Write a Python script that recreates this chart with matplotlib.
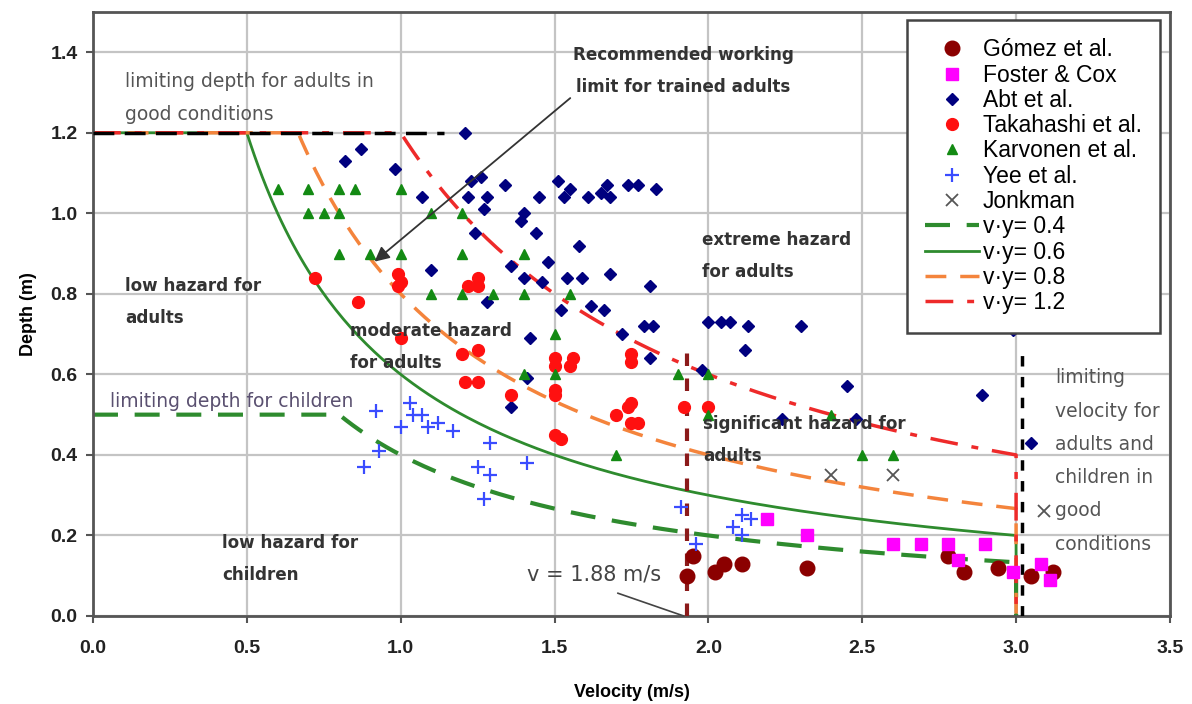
import numpy as np
import matplotlib
matplotlib.use("Agg")
import matplotlib.pyplot as plt
from matplotlib.lines import Line2D

plt.rcParams['font.family'] = ['Liberation Sans', 'DejaVu Sans']

# - - - - data - - - -
gomez_v = [1.93, 1.95, 2.02, 2.05, 2.11, 2.32, 2.78, 2.83, 2.94, 3.05, 3.12]
gomez_y = [0.10, 0.15, 0.11, 0.13, 0.13, 0.12, 0.15, 0.11, 0.12, 0.10, 0.11]

foster_v = [2.19, 2.32, 2.60, 2.69, 2.78, 2.81, 2.90, 2.99, 3.08, 3.11]
foster_y = [0.24, 0.20, 0.18, 0.18, 0.18, 0.14, 0.18, 0.11, 0.13, 0.09]

abt_v = [0.82, 0.87, 0.98, 1.21, 1.23, 1.26, 1.34, 1.51, 1.55, 1.07, 1.22, 1.28,
         1.45, 1.53, 1.61, 1.65, 1.67, 1.68, 1.74, 1.77, 1.83, 1.27, 1.40, 1.39,
         1.24, 1.44, 1.58, 1.36, 1.48, 1.10, 1.68, 1.40, 1.46, 1.54, 1.59, 1.81,
         1.28, 1.52, 1.62, 1.66, 1.42, 1.72, 1.79, 1.82, 2.00, 2.04, 2.07, 2.13,
         2.30, 2.12, 1.81, 1.98, 2.45, 2.24, 2.48, 2.89, 3.05, 2.99, 1.41, 1.36]
abt_y = [1.13, 1.16, 1.11, 1.20, 1.08, 1.09, 1.07, 1.08, 1.06, 1.04, 1.04, 1.04,
         1.04, 1.04, 1.04, 1.05, 1.07, 1.04, 1.07, 1.07, 1.06, 1.01, 1.00, 0.98,
         0.95, 0.95, 0.92, 0.87, 0.88, 0.86, 0.85, 0.84, 0.83, 0.84, 0.84, 0.82,
         0.78, 0.76, 0.77, 0.76, 0.69, 0.70, 0.72, 0.72, 0.73, 0.73, 0.73, 0.72,
         0.72, 0.66, 0.64, 0.61, 0.57, 0.49, 0.49, 0.55, 0.43, 0.71, 0.59, 0.52]

takahashi_v = [0.72, 0.86, 0.99, 1.00, 0.99, 1.00, 1.22, 1.25, 1.25, 1.20, 1.25,
               1.21, 1.25, 1.36, 1.50, 1.50, 1.56, 1.55, 1.50, 1.50, 1.50, 1.52,
               1.75, 1.75, 1.70, 1.74, 1.75, 1.75, 1.77, 1.92, 2.00]
takahashi_y = [0.84, 0.78, 0.85, 0.83, 0.82, 0.69, 0.82, 0.84, 0.82, 0.65, 0.66,
               0.58, 0.58, 0.55, 0.64, 0.62, 0.64, 0.62, 0.55, 0.56, 0.45, 0.44,
               0.65, 0.63, 0.50, 0.52, 0.53, 0.48, 0.48, 0.52, 0.52]

karvonen_v = [0.60, 0.70, 0.80, 0.85, 1.00, 0.70, 0.75, 0.80, 1.10, 1.20, 0.80,
              0.90, 1.00, 1.20, 1.40, 1.10, 1.20, 1.30, 1.40, 1.55, 1.50, 1.40,
              1.50, 1.90, 2.00, 2.00, 1.70, 2.40, 2.50, 2.60]
karvonen_y = [1.06, 1.06, 1.06, 1.06, 1.06, 1.00, 1.00, 1.00, 1.00, 1.00, 0.90,
              0.90, 0.90, 0.90, 0.90, 0.80, 0.80, 0.80, 0.80, 0.80, 0.70, 0.60,
              0.60, 0.60, 0.60, 0.50, 0.40, 0.50, 0.40, 0.40]

yee_v = [0.88, 0.92, 0.93, 1.00, 1.03, 1.04, 1.07, 1.09, 1.12, 1.17, 1.25, 1.29,
         1.27, 1.29, 1.41, 1.91, 1.96, 2.08, 2.11, 2.14, 2.11]
yee_y = [0.37, 0.51, 0.41, 0.47, 0.53, 0.50, 0.50, 0.47, 0.48, 0.46, 0.37, 0.35,
         0.29, 0.43, 0.38, 0.27, 0.18, 0.22, 0.25, 0.24, 0.20]

jonkman_v = [2.40, 2.60, 3.09]
jonkman_y = [0.35, 0.35, 0.26]

# hazard curves v*y = const, capped at a limiting depth, cut at v = 3 m/s
hazard_const = [0.4, 0.6, 0.8, 1.2]
hazard_cap = [0.5, 1.2, 1.2, 1.2]
v_limit = 3.0
v_marked = 1.93
v_limit_line = 3.02


def main():
    fig = plt.figure(figsize=(11.92, 7.04), dpi=100)
    ax = fig.add_axes([0.078, 0.125, 0.9035, 0.858])

    ax.set_xlim(0, 3.5)
    ax.set_ylim(0, 1.5)
    ax.set_xticks(np.arange(0, 3.51, 0.5))
    ax.set_yticks(np.arange(0, 1.41, 0.2))
    ax.set_xticklabels(["%.1f" % t for t in np.arange(0, 3.51, 0.5)])
    ax.set_yticklabels(["%.1f" % t for t in np.arange(0, 1.41, 0.2)])
    ax.grid(True, color='#c4c4c4', linewidth=1.6)
    ax.set_axisbelow(True)
    for s in ax.spines.values():
        s.set_color('#555555')
        s.set_linewidth(2)
    ax.tick_params(length=5, width=1.5, color='#555555', labelsize=14)
    ax.tick_params(axis='x', pad=12)
    ax.tick_params(axis='y', pad=6)
    for lab in ax.get_xticklabels() + ax.get_yticklabels():
        lab.set_fontweight('bold')
        lab.set_color('#222222')
    ax.set_xlabel("Velocity (m/s)", fontsize=13, fontweight='bold', labelpad=20)
    ax.set_ylabel("Depth (m)", fontsize=13, fontweight='bold', labelpad=10)

    # limiting depth lines
    ax.plot([0, 1.14], [1.2, 1.2], color='black', lw=2.5, dashes=(6, 3), zorder=3)
    ax.plot([v_marked, v_marked], [0, 0.68], color='#8b1a1a', lw=3, dashes=(3, 3), zorder=3)
    ax.plot([v_limit_line, v_limit_line], [0, 0.65], color='black', lw=2.5, dashes=(3, 3), zorder=3)

    styles = [dict(color='#2e8b2e', lw=3, dashes=(6, 4)),
              dict(color='#2e8b2e', lw=2, linestyle='-'),
              dict(color='#f4843c', lw=2.5, dashes=(6, 4)),
              dict(color='#ee2a2a', lw=2.5, dashes=(8, 4, 2, 4))]
    for c, cap, st in zip(hazard_const, hazard_cap, styles):
        v0 = c / cap
        v = np.linspace(v0, v_limit, 200)
        vv = np.concatenate([[0], v, [v_limit]])
        yy = np.concatenate([[cap], c / v, [0]])
        ax.plot(vv, yy, zorder=2, **st)

    ax.plot(gomez_v, gomez_y, 'o', color='#8b0000', ms=10.5, zorder=4)
    ax.plot(foster_v, foster_y, 's', color='#ff00ff', ms=8, zorder=4)
    ax.plot(abt_v, abt_y, 'D', color='#00007f', ms=6, zorder=4)
    ax.plot(takahashi_v, takahashi_y, 'o', color='#ff1010', ms=8.5, zorder=4)
    ax.plot(karvonen_v, karvonen_y, '^', color='#138a13', ms=7, zorder=4)
    ax.plot(yee_v, yee_y, '+', color='#3a4cff', ms=10, mew=1.6, zorder=4)
    ax.plot(jonkman_v, jonkman_y, 'x', color='#555555', ms=8, mew=1.3, zorder=4)

    # region labels
    dv = ['DejaVu Sans']
    bold = dict(family=dv, fontsize=12.1, fontweight='bold', color='#333333',
                linespacing=2.0, zorder=5)
    gray = dict(family=dv, fontsize=13.5, color='#555555', linespacing=1.95, zorder=5)
    ax.text(0.104, 1.286, "limiting depth for adults in\ngood conditions", va='center', **gray)
    ax.text(0.055, 0.532, "limiting depth for children", va='center', family=dv,
            color='#5a5070', fontsize=13.5, zorder=5)
    ax.text(0.104, 0.78, "low hazard for\nadults", va='center', **bold)
    ax.text(0.835, 0.668, "moderate hazard\nfor adults", va='center', **bold)
    ax.text(1.979, 0.893, "extreme hazard\nfor adults", va='center', **bold)
    ax.text(1.982, 0.437, "significant hazard for\nadults", va='center', **bold)
    ax.text(0.419, 0.142, "low hazard for\nchildren", va='center', **bold)
    ax.text(3.126, 0.385, "limiting\nvelocity for\nadults and\nchildren in\ngood\nconditions",
            va='center', **gray)

    ax.annotate("Recommended working\nlimit for trained adults", xy=(0.915, 0.88),
                xytext=(1.919, 1.354), ha='center', va='center', **bold,
                arrowprops=dict(arrowstyle='-|>', color='#333333', lw=1.3,
                                mutation_scale=22, shrinkA=0, shrinkB=0,
                                relpos=(0.0, 0.0)))
    ax.annotate("v = 1.88 m/s", xy=(1.92, 0.0), xytext=(1.628, 0.102), ha='center',
                va='center', family=dv, fontsize=15, color='#444444', zorder=5,
                arrowprops=dict(arrowstyle='-', color='#444444', lw=1.2,
                                shrinkA=12, shrinkB=0, relpos=(0.5, 0.0)))

    handles = [
        Line2D([], [], ls='none', marker='o', color='#8b0000', ms=10.5),
        Line2D([], [], ls='none', marker='s', color='#ff00ff', ms=8),
        Line2D([], [], ls='none', marker='D', color='#00007f', ms=6),
        Line2D([], [], ls='none', marker='o', color='#ff1010', ms=8.5),
        Line2D([], [], ls='none', marker='^', color='#138a13', ms=7),
        Line2D([], [], ls='none', marker='+', color='#3a4cff', ms=10, mew=1.6),
        Line2D([], [], ls='none', marker='x', color='#555555', ms=8, mew=1.3),
    ]
    for st in styles:
        handles.append(Line2D([], [], **st))
    labels = ["Gómez et al.", "Foster & Cox", "Abt et al.", "Takahashi et al.",
              "Karvonen et al.", "Yee et al.", "Jonkman"] + \
             ["v·y= %.1f" % c for c in hazard_const]
    leg = ax.legend(handles, labels, loc='upper right', bbox_to_anchor=(0.9907, 0.9868),
                    fontsize=16.5, frameon=True, fancybox=False, framealpha=1,
                    edgecolor='#444444', handlelength=2.35, handletextpad=0.15,
                    labelspacing=0.10, borderpad=0.8, borderaxespad=0)
    leg.get_frame().set_linewidth(1.8)
    leg.set_zorder(6)

    fig.savefig('out.png', dpi=100)


if __name__ == '__main__':
    main()
